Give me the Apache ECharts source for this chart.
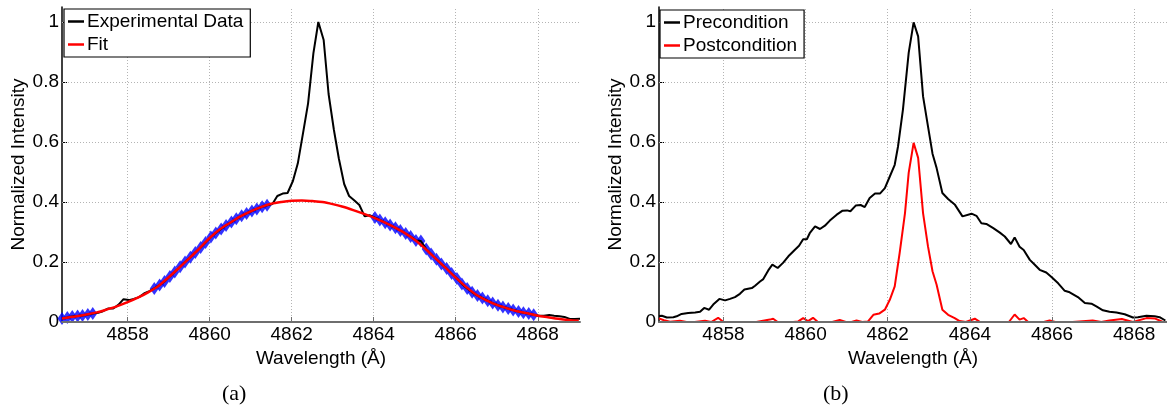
<!DOCTYPE html>
<html>
<head>
<meta charset="utf-8">
<script src="https://cdn.jsdelivr.net/npm/echarts@6/dist/echarts.min.js"></script>
<style>
html,body{margin:0;padding:0;background:#fff;}
#chart{width:1167px;height:412px;}
</style>
</head>
<body>
<div id="chart"></div>
<script>
// ---------- DATA ----------
const wavelengthTickLabels = [4858, 4860, 4862, 4864, 4866, 4868];
const intensityTickLabels = [0, 0.2, 0.4, 0.6, 0.8, 1];

// Panel (a): experimental spectrum [wavelength Å, normalized intensity]
const experimentalData = [
[4856.40,0.012],[4856.53,0.015],[4856.65,0.018],[4856.78,0.020],[4856.90,0.022],[4857.03,0.025],
[4857.15,0.028],[4857.28,0.031],[4857.40,0.036],[4857.53,0.045],[4857.65,0.045],[4857.78,0.058],
[4857.90,0.076],[4858.03,0.073],[4858.15,0.077],[4858.28,0.083],[4858.40,0.095],[4858.53,0.103],
[4858.65,0.112],[4858.78,0.123],[4858.90,0.135],[4859.03,0.152],[4859.15,0.167],[4859.28,0.184],
[4859.40,0.200],[4859.53,0.216],[4859.65,0.232],[4859.78,0.248],[4859.90,0.265],[4860.03,0.283],
[4860.15,0.297],[4860.28,0.310],[4860.40,0.322],[4860.53,0.333],[4860.65,0.344],[4860.78,0.354],
[4860.90,0.362],[4861.03,0.370],[4861.15,0.377],[4861.28,0.384],[4861.40,0.389],[4861.53,0.393],
[4861.65,0.420],[4861.78,0.428],[4861.90,0.430],[4862.03,0.470],[4862.15,0.529],[4862.28,0.632],
[4862.40,0.729],[4862.53,0.896],[4862.65,1.000],[4862.78,0.940],[4862.90,0.760],[4863.03,0.640],
[4863.15,0.545],[4863.28,0.460],[4863.40,0.420],[4863.53,0.405],[4863.65,0.390],[4863.78,0.352],
[4863.90,0.356],[4864.03,0.348],[4864.15,0.340],[4864.28,0.331],[4864.40,0.323],[4864.53,0.314],
[4864.65,0.305],[4864.78,0.295],[4864.90,0.285],[4865.03,0.272],[4865.15,0.270],[4865.28,0.243],
[4865.40,0.227],[4865.53,0.209],[4865.65,0.193],[4865.78,0.178],[4865.90,0.162],[4866.03,0.145],
[4866.15,0.127],[4866.28,0.112],[4866.40,0.099],[4866.53,0.088],[4866.65,0.080],[4866.78,0.071],
[4866.90,0.063],[4867.03,0.056],[4867.15,0.050],[4867.28,0.045],[4867.40,0.040],[4867.53,0.035],
[4867.65,0.031],[4867.78,0.028],[4867.90,0.024],[4868.03,0.021],[4868.15,0.021],[4868.28,0.023],
[4868.40,0.021],[4868.53,0.019],[4868.65,0.017],[4868.78,0.010],[4868.90,0.010],[4869.03,0.011]
];

// Panel (a): Gaussian fit curve
const fitData = [
[4856.40,0.012],[4856.75,0.019],[4857.00,0.025],[4857.25,0.032],[4857.50,0.042],[4857.75,0.053],
[4858.00,0.066],[4858.25,0.081],[4858.50,0.099],[4858.75,0.120],[4859.00,0.149],[4859.25,0.180],
[4859.50,0.212],[4859.75,0.245],[4860.00,0.280],[4860.25,0.309],[4860.50,0.331],[4860.75,0.352],
[4861.00,0.369],[4861.25,0.383],[4861.50,0.394],[4861.75,0.400],[4862.00,0.404],[4862.25,0.405],
[4862.50,0.403],[4862.75,0.400],[4863.00,0.393],[4863.25,0.384],[4863.50,0.373],[4863.75,0.361],
[4864.00,0.348],[4864.25,0.333],[4864.50,0.316],[4864.75,0.297],[4865.00,0.274],[4865.25,0.245],
[4865.50,0.213],[4865.75,0.181],[4866.00,0.148],[4866.25,0.117],[4866.50,0.091],[4866.75,0.072],
[4867.00,0.057],[4867.25,0.046],[4867.50,0.036],[4867.75,0.029],[4868.00,0.021],[4868.25,0.016],
[4868.50,0.011],[4868.75,0.007],[4869.00,0.004]
];

// Panel (a): wavelength windows whose experimental points were used in the fit (blue markers)
const fitWindows = [[4856.35, 4857.20], [4858.60, 4861.45], [4864.00, 4867.95]];

// Panel (b): precondition spectrum
const preconditionData = [
[4856.43,0.020],[4856.50,0.021],[4856.62,0.015],[4856.78,0.016],[4856.86,0.019],[4856.98,0.027],
[4857.14,0.030],[4857.31,0.032],[4857.43,0.034],[4857.53,0.047],[4857.65,0.041],[4857.75,0.058],
[4857.90,0.077],[4858.04,0.072],[4858.16,0.077],[4858.28,0.083],[4858.40,0.094],[4858.51,0.108],
[4858.69,0.113],[4858.77,0.121],[4858.89,0.135],[4858.97,0.143],[4859.09,0.172],[4859.19,0.191],
[4859.32,0.180],[4859.45,0.197],[4859.58,0.219],[4859.74,0.241],[4859.84,0.254],[4859.94,0.276],
[4860.03,0.276],[4860.10,0.296],[4860.23,0.319],[4860.35,0.310],[4860.47,0.321],[4860.59,0.338],
[4860.75,0.357],[4860.90,0.371],[4861.01,0.372],[4861.09,0.369],[4861.22,0.388],[4861.34,0.390],
[4861.44,0.383],[4861.56,0.413],[4861.69,0.428],[4861.81,0.428],[4861.93,0.446],[4862.05,0.485],
[4862.17,0.524],[4862.25,0.585],[4862.37,0.708],[4862.51,0.897],[4862.63,0.999],[4862.74,0.952],
[4862.86,0.752],[4862.98,0.652],[4863.09,0.561],[4863.19,0.513],[4863.33,0.430],[4863.47,0.410],
[4863.63,0.392],[4863.82,0.352],[4864.04,0.361],[4864.16,0.354],[4864.28,0.329],[4864.40,0.327],
[4864.57,0.313],[4864.73,0.298],[4864.85,0.285],[4865.00,0.260],[4865.09,0.282],[4865.21,0.251],
[4865.31,0.240],[4865.46,0.207],[4865.58,0.191],[4865.70,0.174],[4865.86,0.165],[4865.98,0.151],
[4866.15,0.129],[4866.31,0.104],[4866.43,0.099],[4866.63,0.083],[4866.80,0.063],[4866.96,0.061],
[4867.08,0.052],[4867.24,0.039],[4867.40,0.034],[4867.57,0.032],[4867.77,0.026],[4867.97,0.015],
[4868.09,0.016],[4868.30,0.021],[4868.50,0.019],[4868.62,0.016],[4868.76,0.005]
];

// Panel (b): postcondition spectrum
const postconditionData = [
[4856.43,0.012],[4856.55,0.006],[4856.70,0.001],[4856.94,0.004],[4857.10,0.000],[4857.30,0.000],
[4857.55,0.004],[4857.70,0.000],[4857.87,0.014],[4858.00,0.000],[4858.40,0.000],[4858.80,0.000],
[4859.13,0.008],[4859.21,0.011],[4859.32,0.000],[4859.70,0.000],[4859.82,0.002],[4859.94,0.013],
[4860.06,0.003],[4860.18,0.014],[4860.30,0.000],[4860.65,0.000],[4860.83,0.007],[4860.98,0.000],
[4861.12,0.000],[4861.24,0.005],[4861.38,0.000],[4861.52,0.002],[4861.65,0.024],[4861.79,0.028],
[4861.93,0.041],[4862.05,0.074],[4862.17,0.119],[4862.29,0.230],[4862.42,0.363],[4862.51,0.497],
[4862.63,0.597],[4862.74,0.547],[4862.86,0.363],[4862.98,0.252],[4863.09,0.169],[4863.19,0.124],
[4863.33,0.041],[4863.47,0.024],[4863.63,0.013],[4863.75,0.003],[4863.90,0.000],[4864.12,0.011],
[4864.25,0.000],[4864.60,0.000],[4864.95,0.000],[4865.09,0.025],[4865.21,0.008],[4865.31,0.013],
[4865.42,0.000],[4865.80,0.000],[4865.94,0.005],[4866.08,0.000],[4866.50,0.000],[4866.99,0.005],
[4867.20,0.000],[4867.40,0.005],[4867.70,0.010],[4867.97,0.000],[4868.30,0.013],[4868.50,0.012],
[4868.70,0.000]
];

// ---------- CHART ----------
const FONT = 'Liberation Sans';
const GRID_GRAY = '#b4b4b4';
const fitMarkers = experimentalData.filter(p => fitWindows.some(w => p[0] >= w[0] && p[0] <= w[1]));

function mainX(gridIndex, min, max) {
  return {
    type: 'value', gridIndex, min, max, splitNumber: 6, position: 'bottom',
    axisLine: {show: false}, axisTick: {show: false},
    axisLabel: {
      color: '#000', fontSize: 19, fontFamily: FONT, margin: 3,
      showMinLabel: false, showMaxLabel: false,
      formatter: v => wavelengthTickLabels.includes(Math.round(v * 1000) / 1000) ? String(Math.round(v)) : ''
    },
    splitLine: {show: false},
    name: 'Wavelength (Å)', nameLocation: 'middle', nameGap: 22,
    nameTextStyle: {color: '#000', fontSize: 19, fontFamily: FONT}
  };
}
function overlayX(gridIndex, min, max) {
  return {
    type: 'value', gridIndex, min, max, splitNumber: 6, z: 10, position: 'bottom',
    axisLine: {show: true, lineStyle: {color: '#6e6e6e', width: 2}},
    axisTick: {show: true, inside: true, length: 5, customValues: wavelengthTickLabels,
      lineStyle: {color: '#6e6e6e', width: 1}},
    axisLabel: {show: false}, splitLine: {show: false}
  };
}
function mainY(gridIndex) {
  return {
    type: 'value', gridIndex, min: 0, max: 1.05, interval: 0.2,
    axisLine: {show: true, lineStyle: {color: '#000', width: 1.5}},
    axisTick: {show: true, inside: true, length: 5, customValues: intensityTickLabels, lineStyle: {color: '#000'}},
    axisLabel: {
      color: '#000', fontSize: 19, fontFamily: FONT, margin: 3,
      showMaxLabel: false,
      formatter: v => intensityTickLabels.includes(Math.round(v * 1000) / 1000) ? String(Math.round(v * 10) / 10) : ''
    },
    splitLine: {show: false},
    name: 'Normalized Intensity', nameLocation: 'middle', nameGap: 33, nameRotate: 90,
    nameTextStyle: {color: '#000', fontSize: 19, fontFamily: FONT}
  };
}
function legendAt(left, top, names) {
  return {
    data: names, orient: 'vertical', left, top, z: 20,
    backgroundColor: '#fff', borderColor: '#000', borderWidth: 1.2,
    padding: [2, 7, 2, 4], itemGap: 2, itemWidth: 16, itemHeight: 2.5, icon: 'rect',
    textStyle: {color: '#000', fontSize: 19, fontFamily: FONT, lineHeight: 21, padding: [0, 0, 0, -2]},
    selectedMode: false
  };
}
// dotted grid lines at the tick positions, placed through the axes' own scales
function gridLines(axisIndex) {
  return {
    type: 'line', xAxisIndex: axisIndex, yAxisIndex: axisIndex, data: [], z: 1, silent: true,
    markLine: {
      z: 1, silent: true, symbol: ['none', 'none'], animation: false,
      label: {show: false}, emphasis: {disabled: true},
      lineStyle: {color: GRID_GRAY, type: [1, 2], width: 1},
      data: wavelengthTickLabels.map(v => ({xAxis: v}))
        .concat(intensityTickLabels.filter(v => v > 0).map(v => ({yAxis: v})))
    }
  };
}

const option = {
  animation: false,
  backgroundColor: '#fff',
  textStyle: {fontFamily: FONT},
  grid: [
    {left: 62, top: 7, width: 518, height: 315},
    {left: 659, top: 7, width: 508, height: 315}
  ],
  xAxis: [
    mainX(0, 4856.4, 4869.03),
    mainX(1, 4856.43, 4868.8),
    overlayX(0, 4856.4, 4869.03),
    overlayX(1, 4856.43, 4868.8)
  ],
  yAxis: [mainY(0), mainY(1)],
  legend: [
    legendAt(64, 9, ['Experimental Data', 'Fit']),
    legendAt(660, 10, ['Precondition', 'Postcondition'])
  ],
  graphic: [
    {type: 'text', left: 222, top: 383, style: {text: '(a)', fontSize: 22, fontFamily: 'Liberation Serif', fill: '#000'}},
    {type: 'text', left: 823, top: 383, style: {text: '(b)', fontSize: 22, fontFamily: 'Liberation Serif', fill: '#000'}}
  ],
  series: [
    gridLines(0),
    gridLines(1),
    {name: 'Fit points', type: 'scatter', xAxisIndex: 0, yAxisIndex: 0, data: fitMarkers,
      symbol: 'diamond', symbolSize: [9, 13], itemStyle: {color: '#0000ff'}, z: 2},
    {name: 'Experimental Data', type: 'line', xAxisIndex: 0, yAxisIndex: 0, data: experimentalData,
      showSymbol: false, lineStyle: {color: '#000', width: 2}, itemStyle: {color: '#000'}, z: 3},
    {name: 'Fit', type: 'line', xAxisIndex: 0, yAxisIndex: 0, data: fitData, smooth: 0.3,
      showSymbol: false, lineStyle: {color: '#ff0000', width: 2.5}, itemStyle: {color: '#ff0000'}, z: 4},
    {name: 'Precondition', type: 'line', xAxisIndex: 1, yAxisIndex: 1, data: preconditionData,
      showSymbol: false, lineStyle: {color: '#000', width: 2}, itemStyle: {color: '#000'}, z: 3},
    {name: 'Postcondition', type: 'line', xAxisIndex: 1, yAxisIndex: 1, data: postconditionData,
      showSymbol: false, lineStyle: {color: '#ff0000', width: 2}, itemStyle: {color: '#ff0000'}, z: 4}
  ]
};

const chart = echarts.init(document.getElementById('chart'), null, {renderer: 'canvas'});
chart.setOption(option);
</script>
</body>
</html>
